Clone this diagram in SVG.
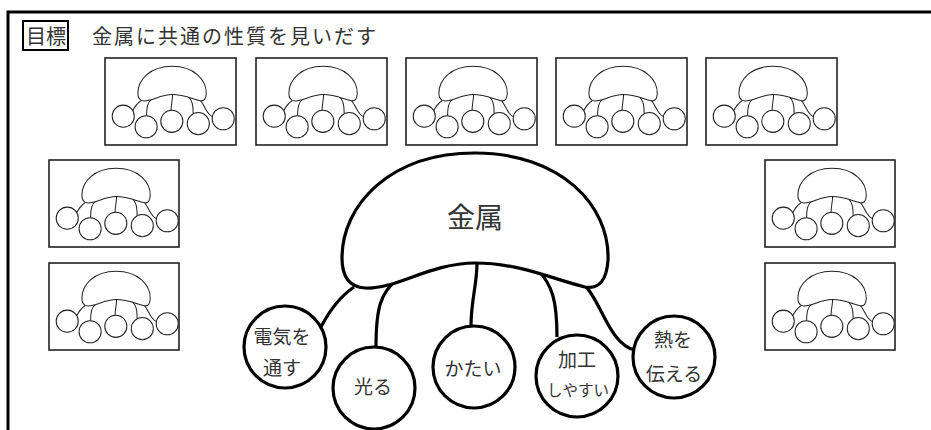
<svg xmlns="http://www.w3.org/2000/svg" xmlns:xlink="http://www.w3.org/1999/xlink" width="931" height="430" viewBox="0 0 931 430">
<style>
.frame{fill:none;stroke:#000;stroke-width:3}
.shape{fill:#fff;stroke:#000;stroke-width:3.2}
.conn{fill:none;stroke:#000;stroke-width:3.2}
.box{fill:#fff;stroke:#222;stroke-width:1.6}
.mini{stroke:#222}
.t{font-family:"Noto Sans CJK JP","Noto Sans CJK SC",sans-serif;fill:#333;text-anchor:middle}
.title{font-family:"Noto Sans CJK JP","Noto Sans CJK SC",sans-serif;fill:#333;font-size:20px}
</style>
<defs>
<g id="mini">
<path fill="none" d="M354,287 Q335,300 321,327 M398,279 C380,292 376,310 376,347 M477,263 C477,285 471,300 471,326 M538,270 C552,285 557,300 557,337 M586,287 C600,300 610,345 635,350"/>
<path fill="#fff" d="M475,153 C560,153 610,205 608,260 C607,278 600,290 585,287 C555,280 520,263 475,263 C430,263 395,290 365,288 C348,287 342,275 342,258 C342,205 390,153 475,153 Z"/>
<g fill="#fff">
<circle cx="285" cy="347" r="43"/>
<circle cx="374" cy="388" r="43"/>
<circle cx="474" cy="367" r="43"/>
<circle cx="577" cy="376" r="43"/>
<circle cx="674" cy="357" r="43"/>
</g>
</g>
</defs>

<path class="frame" d="M8,430 V12 H931"/>

<g id="goal">
<rect x="23" y="21" width="45" height="29" fill="none" stroke="#000" stroke-width="2"/>
<text class="title" x="26" y="44">目標</text>
<text class="title" x="92" y="44" letter-spacing="2">金属に共通の性質を見いだす</text>
</g>

<g id="thumb1"><rect class="box" x="105" y="58" width="131" height="87"/><use href="#mini" class="mini" stroke-width="4" transform="translate(50,27) scale(0.257)"/></g>
<g id="thumb2"><rect class="box" x="256" y="58" width="131" height="87"/><use href="#mini" class="mini" stroke-width="4" transform="translate(201,27) scale(0.257)"/></g>
<g id="thumb3"><rect class="box" x="406" y="58" width="131" height="87"/><use href="#mini" class="mini" stroke-width="4" transform="translate(351,27) scale(0.257)"/></g>
<g id="thumb4"><rect class="box" x="556" y="58" width="131" height="87"/><use href="#mini" class="mini" stroke-width="4" transform="translate(501,27) scale(0.257)"/></g>
<g id="thumb5"><rect class="box" x="706" y="58" width="131" height="87"/><use href="#mini" class="mini" stroke-width="4" transform="translate(651,27) scale(0.257)"/></g>
<g id="thumb6"><rect class="box" x="49" y="160" width="130" height="87"/><use href="#mini" class="mini" stroke-width="4" transform="translate(-6,129) scale(0.257)"/></g>
<g id="thumb7"><rect class="box" x="49" y="263" width="130" height="87"/><use href="#mini" class="mini" stroke-width="4" transform="translate(-6,232) scale(0.257)"/></g>
<g id="thumb8"><rect class="box" x="765" y="160" width="130" height="87"/><use href="#mini" class="mini" stroke-width="4" transform="translate(710,129) scale(0.257)"/></g>
<g id="thumb9"><rect class="box" x="765" y="263" width="130" height="87"/><use href="#mini" class="mini" stroke-width="4" transform="translate(710,232) scale(0.257)"/></g>

<g id="connectors">
<path class="conn" d="M354,287 Q335,300 321,327"/>
<path class="conn" d="M398,279 C380,292 376,310 376,347"/>
<path class="conn" d="M477,263 C477,285 471,300 471,326"/>
<path class="conn" d="M538,270 C552,285 557,300 557,337"/>
<path class="conn" d="M586,287 C600,300 610,345 635,350"/>
</g>

<g id="metal">
<path class="shape" d="M475,153 C560,153 610,205 608,260 C607,278 600,290 585,287 C555,280 520,263 475,263 C430,263 395,290 365,288 C348,287 342,275 342,258 C342,205 390,153 475,153 Z"/>
<text class="t" x="475" y="228" font-size="28">金属</text>
</g>

<g id="electric">
<circle class="shape" cx="285" cy="347" r="41"/>
<text class="t" x="282" y="344" font-size="19">電気を</text>
<text class="t" x="282" y="375" font-size="19">通す</text>
</g>
<g id="shine">
<circle class="shape" cx="374" cy="388" r="41"/>
<text class="t" x="373" y="394" font-size="19">光る</text>
</g>
<g id="hard">
<circle class="shape" cx="474" cy="367" r="41"/>
<text class="t" x="473" y="376" font-size="19">かたい</text>
</g>
<g id="workable">
<circle class="shape" cx="577" cy="376" r="41"/>
<text class="t" x="577" y="367" font-size="19">加工</text>
<text class="t" x="578" y="396" font-size="15.5">しやすい</text>
</g>
<g id="heat">
<circle class="shape" cx="674" cy="357" r="41"/>
<text class="t" x="673" y="347" font-size="19">熱を</text>
<text class="t" x="674" y="381" font-size="19">伝える</text>
</g>
</svg>
